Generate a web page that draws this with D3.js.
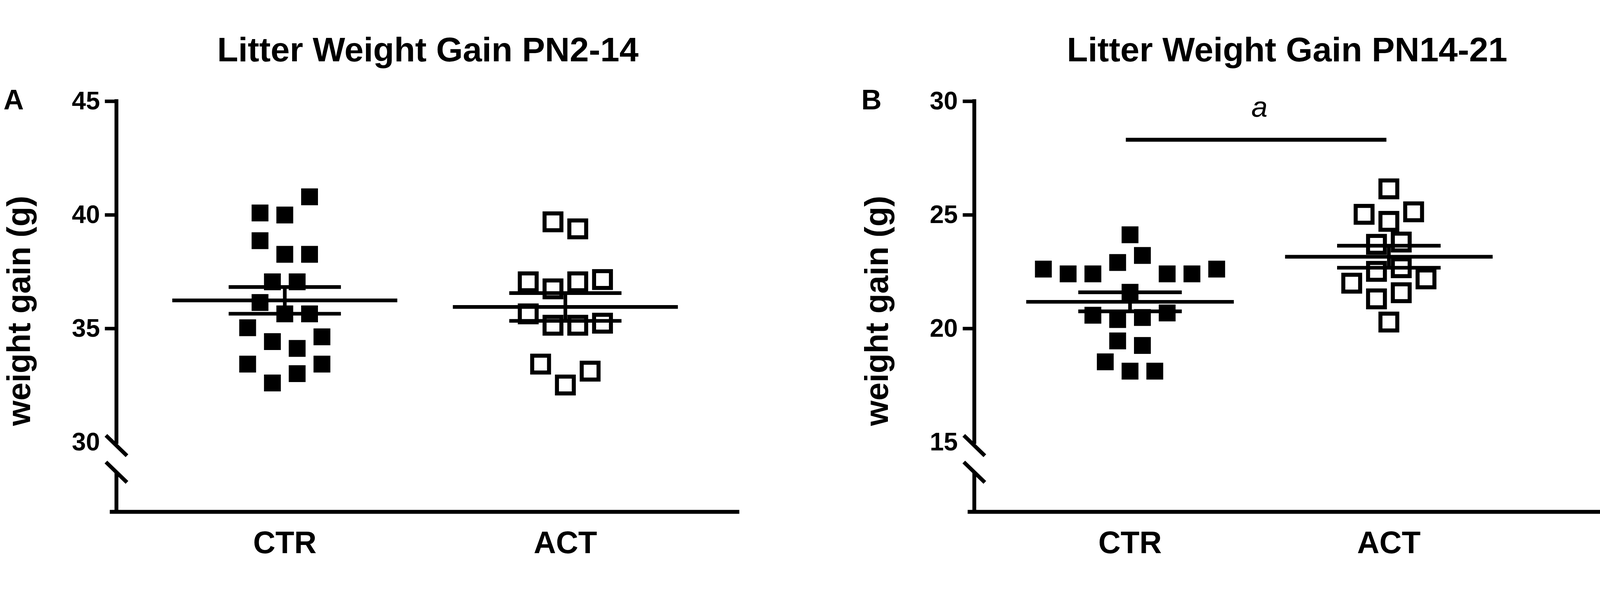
<!DOCTYPE html>
<html>
<head>
<meta charset="utf-8">
<script src="https://cdn.jsdelivr.net/npm/d3@7"></script>
<style>
  html, body { margin: 0; padding: 0; background: #fff; overflow: hidden; }
  #chart { display: block; width: 100vw; height: 100vh; }
  text { font-family: "Liberation Sans", Arial, sans-serif; fill: #000; }
</style>
</head>
<body>
<svg id="chart" viewBox="0 0 4562 1518" preserveAspectRatio="xMidYMid meet"></svg>
<script>
// data (litter weight gain, g)
var groups = ["CTR", "ACT"];

var ctrGain2to14 = [40.08, 39.99, 40.79, 38.86, 38.26, 38.26, 37.05, 37.05, 36.14, 35.64,
                    35.64, 35.03, 34.42, 34.12, 34.63, 33.43, 32.60, 33.01, 33.43];
var actGain2to14 = [39.69, 39.38, 37.05, 36.74, 37.05, 37.15, 35.64, 35.14, 35.14, 35.23,
                    33.43, 32.51, 33.12];

var ctrGain14to21 = [24.12, 22.61, 22.40, 22.40, 22.90, 23.21, 22.40, 22.40, 22.61, 21.59,
                     20.58, 20.39, 20.48, 20.68, 19.45, 19.25, 18.53, 18.12, 18.12];
var actGain14to21 = [26.14, 25.02, 24.71, 25.13, 23.70, 23.80, 22.51, 22.67, 21.99, 21.30,
                     21.57, 22.18, 20.28];

var ticks2to14 = [30, 35, 40, 45];
var ticks14to21 = [15, 20, 25, 30];

var titles = ["Litter Weight Gain PN2-14", "Litter Weight Gain PN14-21"];
var letters = ["A", "B"];
var yLabel = "weight gain (g)";

// significance mark on panel B
var sigText = "a";
var sigLevel = 28.3;

// layout
var yTop = 202, yBottom = 1174, baseY = 1373;
var size = 48, slotStep = 35.3;
var lw = 11;

var panels = [
    { title: titles[0], letter: letters[0], ctr: ctrGain2to14, act: actGain2to14,
      ticks: ticks2to14, axisX: 332, axisEnd: 2108, centers: [812, 1612], sig: false },
    { title: titles[1], letter: letters[1], ctr: ctrGain14to21, act: actGain14to21,
      ticks: ticks14to21, axisX: 2778, axisEnd: 4562, centers: [3222, 3960], sig: true }
];

// rows of close values are spread symmetrically around the group centre
function swarm(values, y) {
    var idx = d3.range(values.length).sort(function (a, b) {
        return values[a] - values[b] || a - b;
    });
    var rows = [], row = null;
    idx.forEach(function (i) {
        var py = y(values[i]);
        if (row && row.startY - py < size * 1.35 && row.lastY - py < size + 1) {
            row.items.push(i);
            row.lastY = py;
        } else {
            row = { startY: py, lastY: py, items: [i] };
            rows.push(row);
        }
    });
    var slot = [];
    rows.forEach(function (r) {
        r.items.sort(function (a, b) { return a - b; });
        var n = r.items.length;
        r.items.forEach(function (i, k) { slot[i] = 2 * k - (n - 1); });
    });
    return slot;
}

var svg = d3.select("#chart");

panels.forEach(function (p) {
    var g = svg.append("g");
    var lo = p.ticks[0], hi = p.ticks[p.ticks.length - 1];
    var y = d3.scaleLinear().domain([lo, hi]).range([yBottom, yTop]);
    var x = d3.scalePoint().domain(groups).range(p.centers);
    var step = x.step();

    // title, panel letter, y label
    g.append("text")
        .attr("x", (p.axisX + p.axisEnd) / 2).attr("y", 89)
        .attr("text-anchor", "middle")
        .style("font-size", "98px").style("font-weight", "bold")
        .text(p.title);
    g.append("text")
        .attr("x", p.axisX - 322).attr("y", 226)
        .style("font-size", "80px").style("font-weight", "bold")
        .text(p.letter);
    g.append("text")
        .attr("transform", "translate(" + (p.axisX - 246) + ",800) rotate(-90)")
        .attr("text-anchor", "middle")
        .style("font-size", "93px").style("font-weight", "bold")
        .text(yLabel);

    // y axis (upper part) with ticks
    var axis = d3.axisLeft(y).tickValues(p.ticks).tickSize(33).tickSizeOuter(0).tickPadding(14);
    var ag = g.append("g").attr("transform", "translate(" + p.axisX + ",0)").call(axis);
    ag.select(".domain").remove();
    ag.selectAll(".tick line").attr("stroke", "#000").attr("stroke-width", 10);
    ag.selectAll(".tick").filter(function (d) { return d === lo; }).select("line").remove();
    ag.selectAll(".tick text")
        .attr("fill", "#000")
        .style("font-size", "72px").style("font-weight", "bold")
        .style("font-family", "'Liberation Sans', Arial, sans-serif");

    g.append("line")
        .attr("x1", p.axisX).attr("x2", p.axisX)
        .attr("y1", y(hi)).attr("y2", y(lo))
        .attr("stroke", "#000").attr("stroke-width", lw).attr("stroke-linecap", "square");

    // axis break
    [10, 86].forEach(function (off) {
        var cy = y(lo) + off;
        g.append("line")
            .attr("x1", p.axisX - 30).attr("y1", cy - 29)
            .attr("x2", p.axisX + 30).attr("y2", cy + 29)
            .attr("stroke", "#000").attr("stroke-width", lw);
    });
    g.append("line")
        .attr("x1", p.axisX).attr("x2", p.axisX)
        .attr("y1", y(lo) + 86).attr("y2", baseY)
        .attr("stroke", "#000").attr("stroke-width", lw);

    // x axis
    g.append("line")
        .attr("x1", p.axisX - 19).attr("x2", p.axisEnd)
        .attr("y1", baseY).attr("y2", baseY)
        .attr("stroke", "#000").attr("stroke-width", lw);
    g.selectAll(".cat")
        .data(groups)
        .enter()
        .append("text")
        .attr("class", "cat")
        .attr("x", function (d) { return x(d); })
        .attr("y", 1491)
        .attr("text-anchor", "middle")
        .style("font-size", "88px").style("font-weight", "bold")
        .text(function (d) { return d; });

    // points
    var sets = [{ key: "CTR", values: p.ctr, open: false }, { key: "ACT", values: p.act, open: true }];
    sets.forEach(function (s) {
        var slot = swarm(s.values, y);
        g.selectAll(".pt-" + s.key)
            .data(s.values)
            .enter()
            .append("rect")
            .attr("class", "pt-" + s.key)
            .attr("x", function (d, i) { return x(s.key) + slot[i] * slotStep - size / 2; })
            .attr("y", function (d) { return y(d) - size / 2; })
            .attr("width", size)
            .attr("height", size)
            .attr("fill", s.open ? "none" : "#000")
            .attr("stroke", s.open ? "#000" : "none")
            .attr("stroke-width", s.open ? 11.5 : 0);
    });

    // mean and SEM
    sets.forEach(function (s) {
        var m = d3.mean(s.values);
        var sem = d3.deviation(s.values) / Math.sqrt(s.values.length);
        var cx = x(s.key);
        var bars = [
            [cx - 0.401 * step, cx + 0.401 * step, y(m), y(m)],
            [cx - 0.2 * step, cx + 0.2 * step, y(m + sem), y(m + sem)],
            [cx - 0.2 * step, cx + 0.2 * step, y(m - sem), y(m - sem)],
            [cx, cx, y(m + sem), y(m - sem)]
        ];
        g.selectAll(".err-" + s.key)
            .data(bars)
            .enter()
            .append("line")
            .attr("x1", function (d) { return d[0]; })
            .attr("x2", function (d) { return d[1]; })
            .attr("y1", function (d) { return d[2]; })
            .attr("y2", function (d) { return d[3]; })
            .attr("stroke", "#000")
            .attr("stroke-width", 10.5);
    });

    if (p.sig) {
        g.append("line")
            .attr("x1", x("CTR") - 12).attr("x2", x("ACT") - 7)
            .attr("y1", y(sigLevel)).attr("y2", y(sigLevel))
            .attr("stroke", "#000").attr("stroke-width", lw);
        g.append("text")
            .attr("x", (x("CTR") + x("ACT")) / 2).attr("y", y(sigLevel) - 66)
            .attr("text-anchor", "middle")
            .style("font-size", "83px").style("font-style", "italic")
            .text(sigText);
    }
});
</script>
</body>
</html>
